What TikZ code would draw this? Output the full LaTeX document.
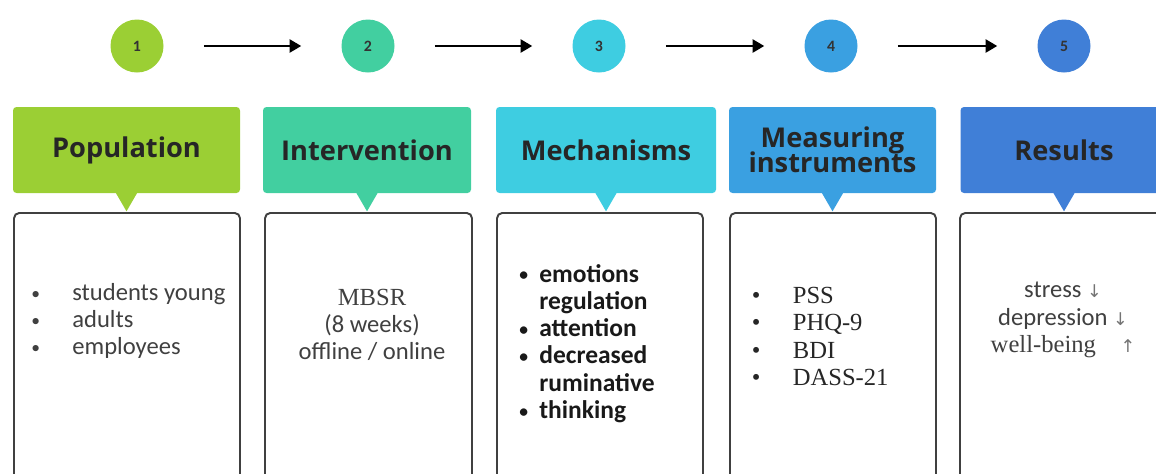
\documentclass[tikz,border=0pt]{standalone}
\usepackage{fontspec}
\setmainfont{Carlito}
\newfontfamily\headfont{Open Sans}
\newfontfamily\timesfont{Liberation Serif}
\newfontfamily\symfont{DejaVu Sans}
\usetikzlibrary{arrows.meta}
\definecolor{stepA}{RGB}{155,207,52}
\definecolor{stepB}{RGB}{66,207,160}
\definecolor{stepC}{RGB}{62,205,225}
\definecolor{stepD}{RGB}{58,160,225}
\definecolor{stepE}{RGB}{64,127,215}
\newcommand{\dotitem}[1]{\makebox[#1][l]{\raisebox{0.1ex}{\fontsize{10}{10}\selectfont\textbullet}}}
\begin{document}
\begin{tikzpicture}[
   step node/.style={circle,minimum size=1.06cm,inner sep=0pt,font=\bfseries\fontsize{9}{9}\selectfont,text=black!80},
   head node/.style={rounded corners=2pt,minimum height=1.72cm,inner sep=2pt,align=center,
                     font=\headfont\bfseries\fontsize{15.5}{12}\selectfont,text=black!85},
   info node/.style={draw=black!75,line width=1.1pt,rounded corners=3pt,anchor=north,minimum height=5.9cm},
   flow/.style={-{Triangle[length=6.5pt,width=7.5pt]},line width=0.9pt,shorten <=0.8cm,shorten >=0.8cm},
   body/.style={font=\fontsize{14}{15.5}\selectfont,text=black!75,inner sep=0pt}
  ]
  \useasboundingbox (0,0) rectangle (23.12,-9.46);
  \clip (0,0) rectangle (23.12,-9.46);

  % steps
  \node[step node,fill=stepA] (n1) at (2.74,-0.92) {1};
  \node[step node,fill=stepB] (n2) at (7.36,-0.92) {2};
  \node[step node,fill=stepC] (n3) at (11.98,-0.92) {3};
  \node[step node,fill=stepD] (n4) at (16.62,-0.92) {4};
  \node[step node,fill=stepE] (n5) at (21.28,-0.92) {5};

  \path%
   (n1) edge [flow] (n2)
   (n2) edge [flow] (n3)
   (n3) edge [flow] (n4)
   (n4) edge [flow] (n5);

  % headers
  \node[head node,fill=stepA,minimum width=4.54cm] (h1) at (2.53,-3.00) {Population};
  \node[head node,fill=stepB,minimum width=4.16cm] (h2) at (7.34,-3.00) {Intervention};
  \node[head node,fill=stepC,minimum width=4.40cm] (h3) at (12.12,-3.00) {Mechanisms};
  \node[head node,fill=stepD,minimum width=4.14cm] (h4) at (16.65,-3.00) {Measuring\\[-2pt]instruments};
  \node[head node,fill=stepE,minimum width=4.14cm] (h5) at (21.28,-3.00) {Results};

  \fill[stepA] ([shift={(-0.22,0.02)}]h1.south) -- ([shift={(0.22,0.02)}]h1.south) -- ([yshift=-0.36cm]h1.south) -- cycle;
  \fill[stepB] ([shift={(-0.22,0.02)}]h2.south) -- ([shift={(0.22,0.02)}]h2.south) -- ([yshift=-0.36cm]h2.south) -- cycle;
  \fill[stepC] ([shift={(-0.22,0.02)}]h3.south) -- ([shift={(0.22,0.02)}]h3.south) -- ([yshift=-0.36cm]h3.south) -- cycle;
  \fill[stepD] ([shift={(-0.22,0.02)}]h4.south) -- ([shift={(0.22,0.02)}]h4.south) -- ([yshift=-0.36cm]h4.south) -- cycle;
  \fill[stepE] ([shift={(-0.22,0.02)}]h5.south) -- ([shift={(0.22,0.02)}]h5.south) -- ([yshift=-0.36cm]h5.south) -- cycle;

  % boxes
  \node[info node,minimum width=4.52cm] (b1) at (2.54,-4.24) {};
  \node[info node,minimum width=4.14cm] (b2) at (7.37,-4.24) {};
  \node[info node,minimum width=4.12cm] (b3) at (12.00,-4.24) {};
  \node[info node,minimum width=4.12cm] (b4) at (16.66,-4.24) {};
  \node[info node,minimum width=4.14cm] (b5) at (21.27,-4.24) {};

  % contents
  \node[body,anchor=west,align=left] (t1) at (0.62,-6.42)
    {\dotitem{0.82cm}students young\\
     \dotitem{0.82cm}adults\\
     \dotitem{0.82cm}employees};
  \node[body,align=center] (t2) at (7.44,-6.50)
    {{\timesfont MBSR}\\(8 weeks)\\offline / online};
  \node[body,anchor=west,align=left,text=black!90,font=\bfseries\fontsize{14.5}{15.5}\selectfont] (t3) at (10.38,-6.87)
    {\dotitem{0.4cm}emotions\\
     \hspace*{0.4cm}regulation\\
     \dotitem{0.4cm}attention\\
     \dotitem{0.4cm}decreased\\
     \hspace*{0.4cm}ruminative\\
     \dotitem{0.4cm}thinking};
  \node[body,anchor=west,align=left,text=black!85,font=\timesfont\fontsize{14}{15.6}\selectfont] (t4) at (15.03,-6.73)
    {\makebox[0.82cm][l]{\textbullet}PSS\\
     \makebox[0.82cm][l]{\textbullet}PHQ-9\\
     \makebox[0.82cm][l]{\textbullet}BDI\\
     \makebox[0.82cm][l]{\textbullet}DASS-21};
  \node[body,align=center] (t5) at (21.26,-6.40)
    {stress {\symfont\color{black!55}\fontsize{10}{10}\selectfont ↓}\\
     depression {\symfont\color{black!55}\fontsize{10}{10}\selectfont ↓}\\
     {\timesfont well-being}\quad{\symfont\color{black!55}\fontsize{10}{10}\selectfont ↑}};
\end{tikzpicture}
\end{document}
